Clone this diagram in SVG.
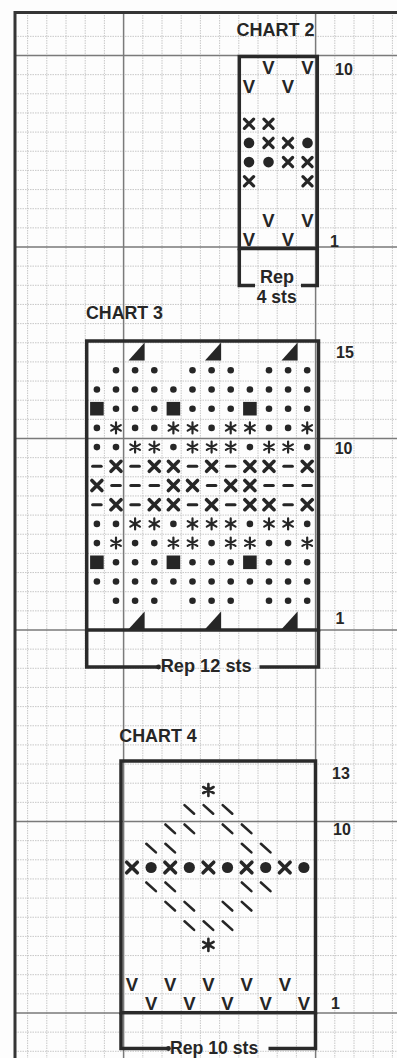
<svg xmlns="http://www.w3.org/2000/svg" width="397" height="1058" viewBox="0 0 397 1058">
<style>
.minor{stroke:#c2c2c2;stroke-width:0.9;stroke-dasharray:1.5 1;fill:none}
.major{stroke:#7a7a7a;stroke-width:1.5;fill:none}
.frame{stroke:#353535;stroke-width:3;fill:none}
.box{fill:none;stroke:#2a2a2a;stroke-width:3.5}
.ink{fill:#262626}
.st{stroke:#262626;fill:none;stroke-linecap:round}
.lbl{font-family:"Liberation Sans",Arial,sans-serif;font-weight:bold;fill:#262626}
.v{font-family:"Liberation Sans",Arial,sans-serif;font-weight:bold;font-size:18.5px;text-anchor:middle;fill:#262626}
</style>
<defs>
<path id="x2" class="st" stroke-width="3.2" d="M-4.6-4.6L4.6 4.6M4.6-4.6L-4.6 4.6"/>
<circle id="d2" class="ink" r="5.3"/>
<circle id="d3" class="ink" r="3.3"/>
<rect id="sq" class="ink" x="-6.8" y="-6.8" width="13.6" height="13.6"/>
<path id="x3" class="st" stroke-width="3.6" d="M-5-5L5 5M5-5L-5 5"/>
<path id="m" class="st" stroke-width="3" stroke-linecap="butt" d="M-4.3 0H4.3"/>
<path id="s3" class="st" stroke-width="2.2" d="M0-5.5V5.5M-4.8-2.75L4.8 2.75M-4.8 2.75L4.8-2.75"/>
<path id="t" class="ink" d="M-6.6 9.4H9.5V-8.5Z"/>
<path id="b" class="st" stroke-width="2.6" d="M-4.8-4.3L4.8 4.3"/>
<path id="x4" class="st" stroke-width="3.6" d="M-5.3-5.3L5.3 5.3M5.3-5.3L-5.3 5.3"/>
<circle id="d4" class="ink" r="5.6"/>
<path id="s4" class="st" stroke-width="2.6" d="M0-6V6M-5.2-3L5.2 3M-5.2 3L5.2-3"/>
<g id="rTri"><use href="#t" x="135.1"/><use href="#t" x="211.6"/><use href="#t" x="288.1"/></g>
<g id="rGap"><use href="#d3" x="116"/><use href="#d3" x="135.1"/><use href="#d3" x="154.3"/><use href="#d3" x="192.5"/><use href="#d3" x="211.6"/><use href="#d3" x="230.7"/><use href="#d3" x="269"/><use href="#d3" x="288.1"/><use href="#d3" x="307.2"/></g>
<g id="rAll"><use href="#rGap"/><use href="#d3" x="96.9"/><use href="#d3" x="173.4"/><use href="#d3" x="249.9"/></g>
<g id="rSq"><use href="#rGap"/><use href="#sq" x="96.9"/><use href="#sq" x="173.4"/><use href="#sq" x="249.9"/></g>
<g id="rA"><use href="#d3" x="96.9"/><use href="#s3" x="116"/><use href="#d3" x="135.1"/><use href="#d3" x="154.3"/><use href="#s3" x="173.4"/><use href="#s3" x="192.5"/><use href="#d3" x="211.6"/><use href="#s3" x="230.7"/><use href="#s3" x="249.9"/><use href="#d3" x="269"/><use href="#d3" x="288.1"/><use href="#s3" x="307.2"/></g>
<g id="rB"><use href="#d3" x="96.9"/><use href="#d3" x="116"/><use href="#s3" x="135.1"/><use href="#s3" x="154.3"/><use href="#d3" x="173.4"/><use href="#s3" x="192.5"/><use href="#s3" x="211.6"/><use href="#s3" x="230.7"/><use href="#d3" x="249.9"/><use href="#s3" x="269"/><use href="#s3" x="288.1"/><use href="#d3" x="307.2"/></g>
<g id="rC"><use href="#m" x="96.9"/><use href="#x3" x="116"/><use href="#m" x="135.1"/><use href="#x3" x="154.3"/><use href="#x3" x="173.4"/><use href="#m" x="192.5"/><use href="#x3" x="211.6"/><use href="#m" x="230.7"/><use href="#x3" x="249.9"/><use href="#x3" x="269"/><use href="#m" x="288.1"/><use href="#x3" x="307.2"/></g>
<g id="rD"><use href="#x3" x="96.9"/><use href="#m" x="116"/><use href="#m" x="135.1"/><use href="#m" x="154.3"/><use href="#x3" x="173.4"/><use href="#x3" x="192.5"/><use href="#m" x="211.6"/><use href="#x3" x="230.7"/><use href="#x3" x="249.9"/><use href="#m" x="269"/><use href="#m" x="288.1"/><use href="#m" x="307.2"/></g>
<g id="b3"><use href="#b" x="189.3"/><use href="#b" x="208.4"/><use href="#b" x="227.5"/></g>
<g id="b4a"><use href="#b" x="170.2"/><use href="#b" x="189.3"/><use href="#b" x="227.5"/><use href="#b" x="246.6"/></g>
<g id="b4b"><use href="#b" x="151.1"/><use href="#b" x="170.2"/><use href="#b" x="246.6"/><use href="#b" x="265.7"/></g>
</defs>
<rect width="397" height="1058" fill="#fdfdfd"/>
<g id="grid">
<path class="minor" d="M27.6 12.5V1058M46.8 12.5V1058M66 12.5V1058M85.2 12.5V1058M104.4 12.5V1058M142.8 12.5V1058M162 12.5V1058M181.2 12.5V1058M200.4 12.5V1058M219.6 12.5V1058M238.8 12.5V1058M258 12.5V1058M277.2 12.5V1058M296.4 12.5V1058M334.8 12.5V1058M354 12.5V1058M373.2 12.5V1058M392.4 12.5V1058"/>
<path class="minor" d="M15 36.35H397M15 74.65H397M15 93.8H397M15 112.95H397M15 132.1H397M15 151.25H397M15 170.4H397M15 189.55H397M15 208.7H397M15 227.85H397M15 266.15H397M15 285.3H397M15 304.45H397M15 323.6H397M15 342.75H397M15 361.9H397M15 381.05H397M15 400.2H397M15 419.35H397M15 457.65H397M15 476.8H397M15 495.95H397M15 515.1H397M15 534.25H397M15 553.4H397M15 572.55H397M15 591.7H397M15 610.85H397M15 649.15H397M15 668.3H397M15 687.45H397M15 706.6H397M15 725.75H397M15 744.9H397M15 764.05H397M15 783.2H397M15 802.35H397M15 840.65H397M15 859.8H397M15 878.95H397M15 898.1H397M15 917.25H397M15 936.4H397M15 955.55H397M15 974.7H397M15 993.85H397M15 1032.15H397M15 1051.3H397"/>
<path class="major" d="M123.6 12.5V1058M315.6 12.5V1058M15 55.5H397M15 247H397M15 438.5H397M15 630H397M15 821.5H397M15 1013H397"/>
<path class="frame" d="M15 1058V12.5H397"/>
</g>
<g id="chart2">
<text class="lbl" x="236.5" y="36" font-size="17.5" textLength="78" lengthAdjust="spacingAndGlyphs">CHART 2</text>
<rect class="box" x="239.3" y="56.5" width="78" height="192"/>
<path class="box" d="M239.3 248.5V285.5H255M301 285.5H317.3V248.5"/>
<text class="lbl" x="277" y="283" font-size="18" text-anchor="middle">Rep</text>
<text class="lbl" x="276.7" y="303" font-size="17.5" text-anchor="middle">4 sts</text>
<text class="lbl" x="335" y="75" font-size="16">10</text>
<text class="lbl" x="330" y="247" font-size="16">1</text>
<text class="v" x="268.5" y="74">V</text><text class="v" x="307.5" y="74">V</text>
<text class="v" x="249" y="93">V</text><text class="v" x="288" y="93">V</text>
<use href="#x2" x="249" y="123.7"/><use href="#x2" x="268.5" y="123.7"/>
<use href="#d2" x="249" y="142.9"/><use href="#x2" x="268.5" y="142.9"/><use href="#x2" x="288" y="142.9"/><use href="#d2" x="307.5" y="142.9"/>
<use href="#d2" x="249" y="162.1"/><use href="#d2" x="268.5" y="162.1"/><use href="#x2" x="288" y="162.1"/><use href="#x2" x="307.5" y="162.1"/>
<use href="#x2" x="249" y="181.3"/><use href="#x2" x="307.5" y="181.3"/>
<text class="v" x="268.5" y="226.5">V</text><text class="v" x="307.5" y="226.5">V</text>
<text class="v" x="249" y="245.5">V</text><text class="v" x="288" y="245.5">V</text>
</g>
<g id="chart3">
<text class="lbl" x="86" y="318.5" font-size="17.5" textLength="77" lengthAdjust="spacingAndGlyphs">CHART 3</text>
<rect class="box" x="86.7" y="341" width="231.8" height="289"/>
<path class="box" d="M86.7 630V667H158M259.5 667H318.5V630"/>
<circle class="ink" cx="158.5" cy="667" r="2.4"/>
<text class="lbl" x="160.7" y="671.5" font-size="17.5" textLength="91" lengthAdjust="spacingAndGlyphs">Rep 12 sts</text>
<text class="lbl" x="336" y="358" font-size="16">15</text>
<text class="lbl" x="334.7" y="454" font-size="16">10</text>
<text class="lbl" x="335.5" y="624" font-size="16">1</text>
<use href="#rTri" y="351.1"/>
<use href="#rGap" y="370.3"/>
<use href="#rAll" y="389.5"/>
<use href="#rSq" y="408.7"/>
<use href="#rA" y="427.9"/>
<use href="#rB" y="447.1"/>
<use href="#rC" y="466.3"/>
<use href="#rD" y="485.5"/>
<use href="#rC" y="504.7"/>
<use href="#rB" y="523.9"/>
<use href="#rA" y="543.1"/>
<use href="#rSq" y="562.3"/>
<use href="#rAll" y="581.5"/>
<use href="#rGap" y="600.7"/>
<use href="#rTri" y="619.9"/>
</g>
<g id="chart4">
<text class="lbl" x="119.3" y="742" font-size="17.5" textLength="77.4" lengthAdjust="spacingAndGlyphs">CHART 4</text>
<rect class="box" x="121" y="761" width="194.5" height="251.7"/>
<path class="box" d="M121 1012.7V1048.5H168M268.5 1048.5H315.5V1012.7"/>
<circle class="ink" cx="168.5" cy="1048.5" r="2.4"/>
<text class="lbl" x="170" y="1053.5" font-size="17.5" textLength="88.3" lengthAdjust="spacingAndGlyphs">Rep 10 sts</text>
<text class="lbl" x="332" y="779" font-size="16">13</text>
<text class="lbl" x="333" y="835" font-size="16">10</text>
<text class="lbl" x="331" y="1008.5" font-size="16">1</text>
<use href="#s4" x="208.4" y="790"/>
<use href="#b3" y="809.4"/>
<use href="#b4a" y="828.8"/>
<use href="#b4b" y="848.1"/>
<use href="#x4" x="132" y="867.5"/><use href="#d4" x="151.1" y="867.5"/><use href="#x4" x="170.2" y="867.5"/><use href="#d4" x="189.3" y="867.5"/><use href="#x4" x="208.4" y="867.5"/><use href="#d4" x="227.5" y="867.5"/><use href="#x4" x="246.6" y="867.5"/><use href="#d4" x="265.7" y="867.5"/><use href="#x4" x="284.8" y="867.5"/><use href="#d4" x="303.9" y="867.5"/>
<use href="#b4b" y="886.8"/>
<use href="#b4a" y="906.2"/>
<use href="#b3" y="925.6"/>
<use href="#s4" x="208.4" y="944.9"/>
<text class="v" x="132" y="991">V</text><text class="v" x="170.2" y="991">V</text><text class="v" x="208.4" y="991">V</text><text class="v" x="246.6" y="991">V</text><text class="v" x="284.8" y="991">V</text>
<text class="v" x="151.1" y="1010.3">V</text><text class="v" x="189.3" y="1010.3">V</text><text class="v" x="227.5" y="1010.3">V</text><text class="v" x="265.7" y="1010.3">V</text><text class="v" x="303.9" y="1010.3">V</text>
</g>
<g id="connectors"></g>
</svg>
